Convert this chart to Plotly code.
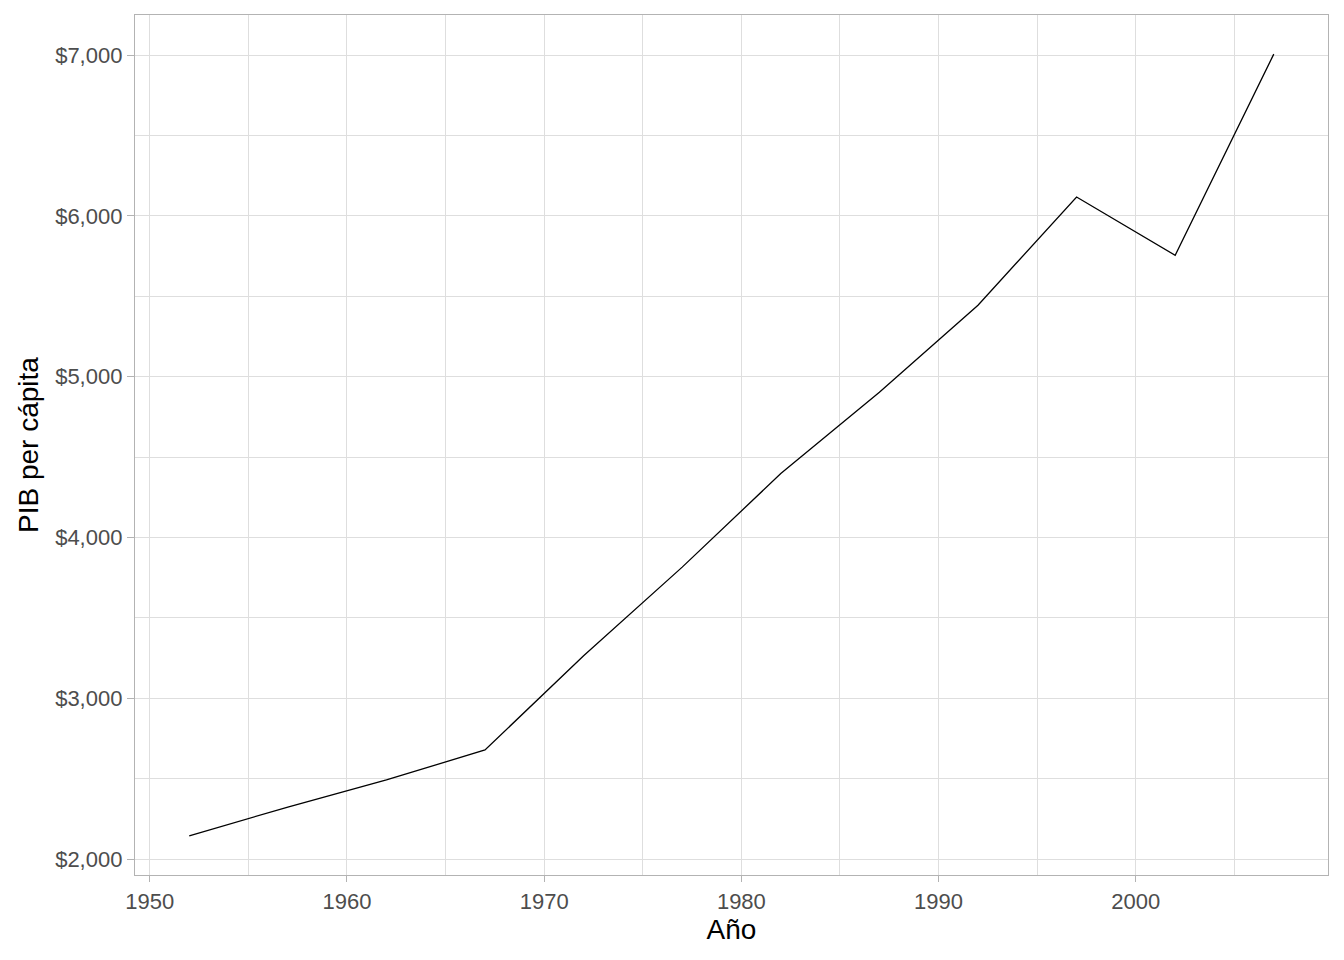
import plotly.graph_objects as go

years = [1952, 1957, 1962, 1967, 1972, 1977, 1982, 1987, 1992, 1997, 2002, 2007]
gdp_per_cap = [2144.115, 2323.806, 2492.351, 2678.730, 3264.660, 3815.808,
               4397.576, 4903.219, 5444.649, 6117.362, 5755.260, 7006.580]

x_ticks = [1950, 1960, 1970, 1980, 1990, 2000]
y_ticks = [2000, 3000, 4000, 5000, 6000, 7000]
y_labels = ["$2,000", "$3,000", "$4,000", "$5,000", "$6,000", "$7,000"]

fig = go.Figure()
fig.add_trace(go.Scatter(x=years, y=gdp_per_cap, mode="lines",
                         line=dict(color="black", width=1.3), showlegend=False))

grid = "#DEDEDE"
border = "#B3B3B3"
tickfont = dict(family="Liberation Sans, Arial, sans-serif", size=22, color="#4D4D4D")
titlefont = dict(family="Liberation Sans, Arial, sans-serif", size=28, color="black")

fig.update_layout(
    width=1344, height=960,
    margin=dict(l=127, r=24, t=7, b=93),
    plot_bgcolor="white", paper_bgcolor="white",
    xaxis=dict(
        range=[1949.25, 2009.75], tickvals=x_ticks, ticktext=[str(v) for v in x_ticks],
        showgrid=True, gridcolor=grid, gridwidth=1,
        minor=dict(tickvals=[1955, 1965, 1975, 1985, 1995, 2005], showgrid=True,
                   gridcolor=grid, gridwidth=0.6),
        showline=True, linecolor=border, linewidth=1.3, mirror=True,
        ticks="outside", ticklen=6, tickcolor=border, tickwidth=1,
        tickfont=tickfont, zeroline=False,
        title=dict(text="Año", font=titlefont, standoff=6),
    ),
    yaxis=dict(
        range=[1900.99, 7249.70], tickvals=y_ticks, ticktext=y_labels,
        showgrid=True, gridcolor=grid, gridwidth=1,
        minor=dict(tickvals=[2500, 3500, 4500, 5500, 6500], showgrid=True,
                   gridcolor=grid, gridwidth=0.6),
        showline=True, linecolor=border, linewidth=1.3, mirror=True,
        ticks="outside", ticklen=7, tickcolor=border, tickwidth=1,
        tickfont=tickfont, zeroline=False,
        title=dict(text="PIB per cápita", font=titlefont, standoff=8),
    ),
)

fig.write_html("out.html")
